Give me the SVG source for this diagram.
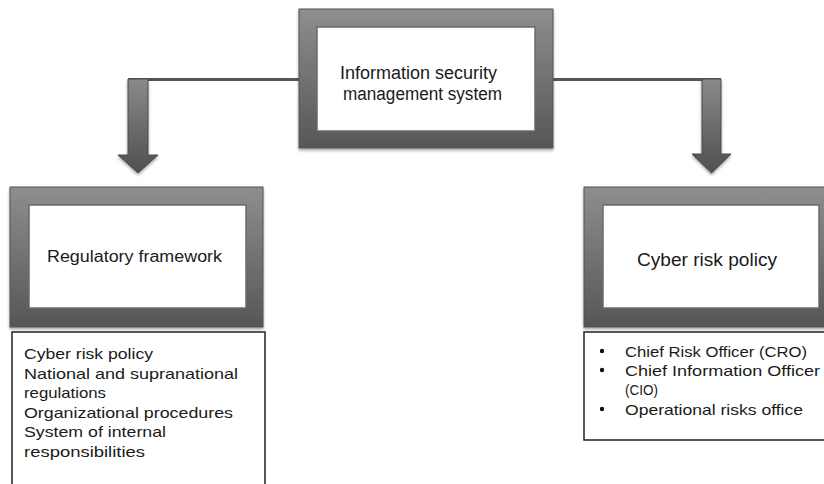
<svg xmlns="http://www.w3.org/2000/svg" width="824" height="484" viewBox="0 0 824 484">
<defs>
<linearGradient id="frameGrad" x1="0" y1="0" x2="0" y2="1">
<stop offset="0" stop-color="#8e8e8e"/>
<stop offset="1" stop-color="#565656"/>
</linearGradient>
<linearGradient id="arrowGrad" x1="0" y1="0" x2="0" y2="1">
<stop offset="0" stop-color="#8a8a8a"/>
<stop offset="1" stop-color="#4f4f4f"/>
</linearGradient>
<filter id="shadow" x="-10%" y="-10%" width="120%" height="125%">
<feGaussianBlur in="SourceAlpha" stdDeviation="1.5"/>
<feOffset dx="0" dy="2" result="b"/>
<feComponentTransfer><feFuncA type="linear" slope="0.35"/></feComponentTransfer>
<feMerge><feMergeNode/><feMergeNode in="SourceGraphic"/></feMerge>
</filter>
</defs>
<style>
.frame{fill:url(#frameGrad);stroke:#555;stroke-width:1;filter:url(#shadow)}
.inner{fill:#fff;stroke:#6a6a6a;stroke-width:1.5}
.list{fill:#fff;stroke:#222;stroke-width:1.5}
.conn{stroke:#555;stroke-width:3;fill:none}
.arrow{fill:url(#arrowGrad);stroke:#4a4a4a;stroke-width:1;filter:url(#shadow)}
text{font-family:"Liberation Sans","Open Sans",Arial,sans-serif;fill:#1a1a1a}
.t18{font-size:18px}
.t16{font-size:16px}
.t15{font-size:15px}
</style>
<rect width="824" height="484" fill="#fff"/>

<g id="connectors">
<line class="conn" x1="128" y1="79.5" x2="300" y2="79.5"/>
<line class="conn" x1="552" y1="79.5" x2="721" y2="79.5"/>
<polygon class="arrow" points="128,79 148,79 148,155 158,155 138,173 118,155 128,155"/>
<polygon class="arrow" points="702,79 721,79 721,154 731,154 711.5,173 692,154 702,154"/>
</g>

<g id="isms">
<rect class="frame" x="299" y="9" width="254" height="139"/>
<rect class="inner" x="317" y="27" width="218" height="104"/>
<text class="t18" x="340" y="79" textLength="157" lengthAdjust="spacingAndGlyphs">Information security</text>
<text class="t18" x="343" y="100" textLength="159" lengthAdjust="spacingAndGlyphs">management system</text>
</g>

<g id="regulatory">
<rect class="frame" x="10" y="187" width="253" height="140"/>
<rect class="inner" x="29" y="205" width="217" height="103"/>
<text class="t16" x="47" y="262" textLength="175" lengthAdjust="spacingAndGlyphs">Regulatory framework</text>
</g>

<g id="cyber">
<rect class="frame" x="584" y="187" width="245" height="140"/>
<rect class="inner" x="603" y="205" width="216" height="103"/>
<text class="t18" x="637" y="266" textLength="140" lengthAdjust="spacingAndGlyphs">Cyber risk policy</text>
</g>

<g id="reg-list">
<path class="list" d="M12,490 V332 H265 V490"/>
<text class="t15" x="24" y="359" textLength="129" lengthAdjust="spacingAndGlyphs">Cyber risk policy</text>
<text class="t15" x="24" y="379" textLength="214" lengthAdjust="spacingAndGlyphs">National and supranational</text>
<text class="t15" x="24" y="398" textLength="82" lengthAdjust="spacingAndGlyphs">regulations</text>
<text class="t15" x="24" y="418" textLength="209" lengthAdjust="spacingAndGlyphs">Organizational procedures</text>
<text class="t15" x="24" y="437" textLength="142" lengthAdjust="spacingAndGlyphs">System of internal</text>
<text class="t15" x="24" y="457" textLength="121" lengthAdjust="spacingAndGlyphs">responsibilities</text>
</g>

<g id="cyber-list">
<path class="list" d="M830,440 H584 V332 H830"/>
<circle cx="602" cy="351" r="2.2" fill="#111"/>
<circle cx="602" cy="370" r="2.2" fill="#111"/>
<circle cx="602" cy="409" r="2.2" fill="#111"/>
<text class="t15" x="625" y="357" textLength="182" lengthAdjust="spacingAndGlyphs">Chief Risk Officer (CRO)</text>
<text class="t15" x="625" y="376" textLength="195" lengthAdjust="spacingAndGlyphs">Chief Information Officer</text>
<text class="t15" x="625" y="395" textLength="33" lengthAdjust="spacingAndGlyphs">(CIO)</text>
<text class="t15" x="625" y="415" textLength="178" lengthAdjust="spacingAndGlyphs">Operational risks office</text>
</g>
</svg>
